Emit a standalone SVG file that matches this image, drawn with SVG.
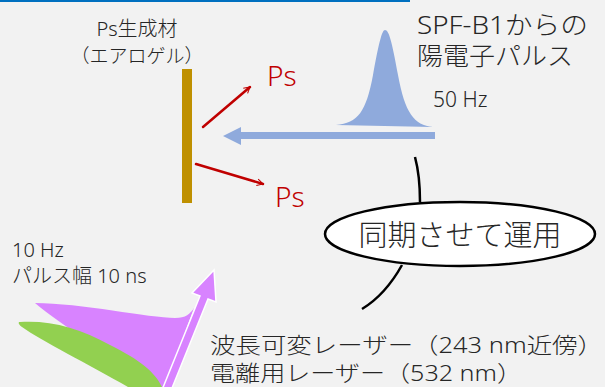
<svg xmlns="http://www.w3.org/2000/svg" width="605" height="387" viewBox="0 0 605 387">
<defs>
<style>
text{font-family:'Noto Sans','Noto Sans CJK JP',sans-serif;fill:#262626;font-weight:300}
.red{fill:#C00000}
.ra{stroke:#C00000;stroke-width:2.5;fill:none;stroke-linecap:round}
.cl{stroke:#000;stroke-width:2.5;fill:none}
</style>
<marker id="va" viewBox="0 0 12 12" refX="10" refY="6" markerWidth="8" markerHeight="8" markerUnits="userSpaceOnUse" orient="auto">
<path d="M1,1 L10,6 L1,11" fill="none" stroke="#C00000" stroke-width="1.6"/>
</marker>
</defs>
<rect width="605" height="387" fill="#F2F2F2"/>
<line x1="0" y1="1" x2="410" y2="1" stroke="#0070C0" stroke-width="2"/>

<g id="target">
<rect x="182" y="69" width="10" height="134" fill="#BF9000"/>
<text x="137" y="36" font-size="20" text-anchor="middle">Ps生成材</text>
<text x="137" y="63" font-size="19" text-anchor="middle">（エアロゲル）</text>
</g>

<g id="positron">
<path d="M336,125 C358,123 366,112 373,75 C379,42 382,30 385,30 C389,30 392,42 398,75 C405,113 414,125 433,127 Z" fill="#8FAADC"/>
<text x="417" y="34" font-size="25" textLength="171" lengthAdjust="spacingAndGlyphs">SPF-B1からの</text>
<text x="417" y="65" font-size="25" textLength="156" lengthAdjust="spacingAndGlyphs">陽電子パルス</text>
<text x="433" y="107" font-size="21">50 Hz</text>
</g>

<g id="ps1">
<text class="red" x="267" y="86" font-size="28">Ps</text>
</g>
<g id="ps2">
<text class="red" x="275" y="207" font-size="28">Ps</text>
</g>

<g id="sync">
<ellipse cx="460" cy="234" rx="135" ry="32" fill="#FFFFFF" stroke="#000" stroke-width="2.5"/>
<text x="460" y="246" font-size="29" text-anchor="middle">同期させて運用</text>
</g>

<g id="laser">
<text x="12" y="257" font-size="20">10 Hz</text>
<text x="12" y="283" font-size="20">パルス幅 10 ns</text>
<path d="M35,303 C80,303 150,318 175,318 C186,318 190,314 194,308 L165,387 L150,387 C120,360 60,325 35,303 Z" fill="#D883FF"/>
<path d="M20,322 C50,320 80,328 110,345 C140,360 155,372 162,387 L128,387 C90,365 40,340 22,327 C18,324 18,322 20,322 Z" fill="#92D050"/>
<text x="210" y="353" font-size="22" textLength="393" lengthAdjust="spacingAndGlyphs">波長可変レーザー（243 nm近傍）</text>
<text x="210" y="381" font-size="22" textLength="312" lengthAdjust="spacingAndGlyphs">電離用レーザー（532 nm）</text>
</g>

<g id="connectors">
<line class="ra" x1="203" y1="127" x2="250" y2="87" marker-end="url(#va)"/>
<line class="ra" x1="196" y1="164" x2="263" y2="184" marker-end="url(#va)"/>
<polygon points="435,132 241,132 241,127 223,136 241,145 241,139 435,139" fill="#8FAADC"/>
<polygon points="162,390 200,296 192,293 214,270 216,302 208,299 170,393" fill="#D883FF" stroke="#FFFFFF" stroke-width="1.5"/>
<path class="cl" d="M415,157 C419,172 420,188 420,202"/>
<path class="cl" d="M402,265 C392,283 380,298 362,309"/>
</g>
</svg>
